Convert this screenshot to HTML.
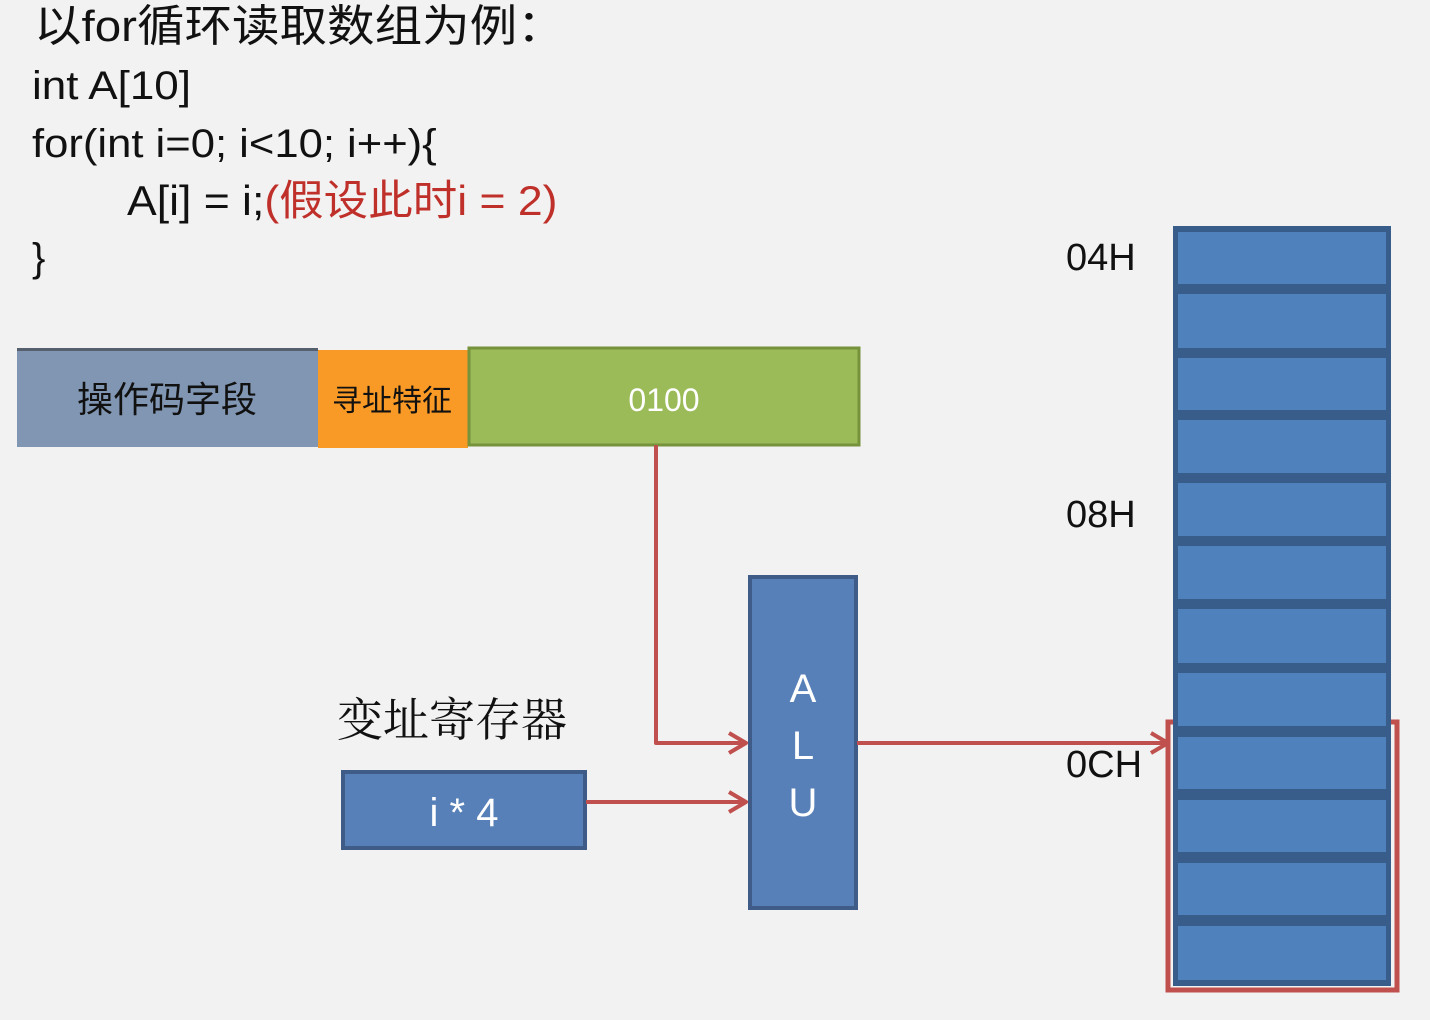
<!DOCTYPE html>
<html><head><meta charset="utf-8"><style>
html,body{margin:0;padding:0;background:#f2f2f2;}
body{width:1430px;height:1020px;overflow:hidden;position:relative;font-family:"Liberation Sans","Noto Sans CJK SC",sans-serif;}
.t{position:absolute;white-space:nowrap;color:#111;transform-origin:0 0;}
</style></head><body>
<div class="t" style="left:34px;top:2px;font-size:44px;line-height:50px;transform:scaleX(1.08);">以for循环读取数组为例：</div>
<div class="t" style="left:32px;top:62px;font-size:40px;line-height:48px;transform:scaleX(1.1);">int A[10]</div>
<div class="t" style="left:32px;top:120px;font-size:40px;line-height:48px;transform:scaleX(1.09);">for(int i=0; i&lt;10; i++){</div>
<div class="t" style="left:127px;top:177px;font-size:42px;line-height:48px;transform:scaleX(1.06);">A[i] = i;<span style="color:#c0302a">(假设此时i = 2)</span></div>
<div class="t" style="left:32px;top:234px;font-size:40px;line-height:48px;">}</div>
<svg width="1430" height="1020" style="position:absolute;left:0;top:0">
<rect x="17" y="348" width="301" height="99" fill="#8096b2"/>
<rect x="17" y="348" width="301" height="3" fill="#555f6e"/>
<rect x="318" y="350" width="150" height="98" fill="#f99a26"/>
<rect x="469" y="348" width="390" height="97" fill="#9bbb59" stroke="#76933c" stroke-width="3"/>
<text x="167" y="412" font-size="36" text-anchor="middle" fill="#111" font-family="Noto Sans CJK SC,sans-serif">操作码字段</text>
<text x="392" y="411" font-size="30" text-anchor="middle" fill="#111" font-family="Noto Sans CJK SC,sans-serif">寻址特征</text>
<text x="664" y="411" font-size="32" text-anchor="middle" fill="#fff" font-family="Liberation Sans,sans-serif">0100</text>
<text x="452" y="736" font-size="46" text-anchor="middle" fill="#111" font-family="Noto Serif CJK SC,serif">变址寄存器</text>
<rect x="343" y="772" width="242" height="76" fill="#5880b8" stroke="#3f5c88" stroke-width="4"/>
<text x="464" y="826" font-size="40" text-anchor="middle" fill="#fff" font-family="Liberation Sans,sans-serif">i * 4</text>
<rect x="750" y="577" width="106" height="331" fill="#5880b8" stroke="#3f5c88" stroke-width="4"/>
<g font-size="40" fill="#fff" text-anchor="middle" font-family="Liberation Sans,sans-serif">
<text x="803" y="702">A</text><text x="803" y="759">L</text><text x="803" y="816">U</text></g>
<g stroke="#c0504d" stroke-width="4" fill="none" stroke-linejoin="round">
<polyline points="656,445 656,743 746,743"/>
<polyline points="729,733 746,743 729,753"/>
<line x1="586" y1="802" x2="746" y2="802"/>
<polyline points="729,792 746,802 729,812"/>
<line x1="857" y1="743" x2="1168" y2="743"/>
<polyline points="1151,733 1168,743 1151,753"/>
</g>
<g font-size="38" fill="#111" font-family="Liberation Sans,sans-serif">
<text x="1066" y="270">04H</text><text x="1066" y="527">08H</text><text x="1066" y="777">0CH</text></g>
<rect x="1168" y="722" width="229" height="268" fill="none" stroke="#c0504d" stroke-width="5"/>
<rect x="1173" y="226" width="218" height="760" fill="#385d8a"/>
<g fill="#4f81bd">
<rect x="1178" y="232" width="208" height="52"/>
<rect x="1178" y="294" width="208" height="54"/>
<rect x="1178" y="358" width="208" height="52"/>
<rect x="1178" y="420" width="208" height="53"/>
<rect x="1178" y="483" width="208" height="53"/>
<rect x="1178" y="546" width="208" height="53"/>
<rect x="1178" y="609" width="208" height="54"/>
<rect x="1178" y="673" width="208" height="53"/>
<rect x="1178" y="737" width="208" height="52"/>
<rect x="1178" y="800" width="208" height="52"/>
<rect x="1178" y="863" width="208" height="52"/>
<rect x="1178" y="926" width="208" height="54"/>
</g>
</svg>
</body></html>
